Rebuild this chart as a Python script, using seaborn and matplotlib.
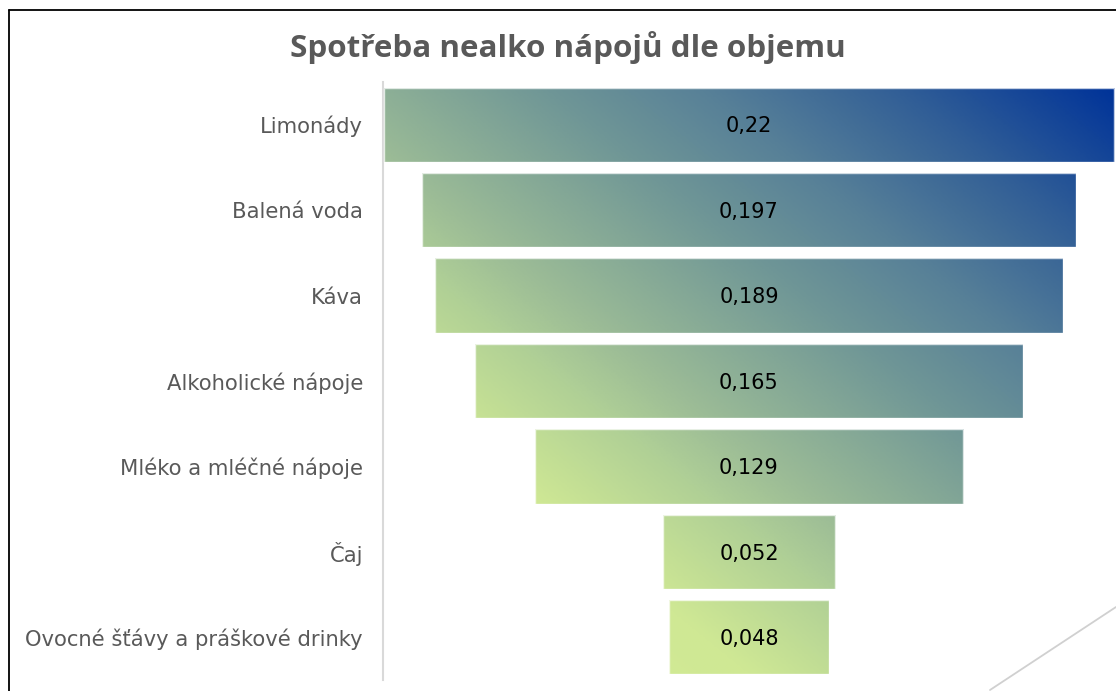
import numpy as np
import pandas as pd
import matplotlib
matplotlib.use("Agg")
import matplotlib.pyplot as plt
import seaborn as sns
from matplotlib.colors import LinearSegmentedColormap
from matplotlib.lines import Line2D

# ---- data ----
categories = ["Limonády", "Balená voda", "Káva", "Alkoholické nápoje",
              "Mléko a mléčné nápoje", "Čaj", "Ovocné šťávy a práškové drinky"]
values = [0.22, 0.197, 0.189, 0.165, 0.129, 0.052, 0.048]
title = "Spotřeba nealko nápojů dle objemu"

sns.set_theme(style="white")
plt.rcParams["font.family"] = ["DejaVu Sans"]

W, H = 1116, 691
fig = plt.figure(figsize=(W / 100, H / 100), dpi=100)
fig.patch.set_facecolor("white")
ax = fig.add_axes([383 / W, 11 / H, 732 / W, 598 / H])
ax.set_facecolor("white")

df = pd.DataFrame({"cat": categories, "val": values})
sns.barplot(data=df, x="val", y="cat", orient="h", ax=ax, width=0.87,
            color="#7a9e96", linewidth=0)

# center bars to make a funnel
for p in ax.patches:
    w = p.get_width()
    p.set_x(-w / 2)
    p.set_facecolor("none")
    p.set_edgecolor((1, 1, 1, 0.75))
    p.set_linewidth(1.0)
    p.set_zorder(3)

xmax = max(values) / 2
half_h = 0.87 / 2
y_top, y_bot = -half_h, len(values) - 1 + half_h

# gradient image (diagonal: light green bottom-left -> dark blue top-right)
cmap = LinearSegmentedColormap.from_list("grad", [
    (0.00, (214 / 255, 238 / 255, 148 / 255)),
    (0.25, (207 / 255, 232 / 255, 148 / 255)),
    (0.37, (176 / 255, 208 / 255, 150 / 255)),
    (0.44, (156 / 255, 188 / 255, 150 / 255)),
    (0.61, (111 / 255, 150 / 255, 150 / 255)),
    (0.72, (87 / 255, 128 / 255, 152 / 255)),
    (0.85, (50 / 255, 95 / 255, 150 / 255)),
    (1.00, (0 / 255, 51 / 255, 153 / 255)),
])
nx, ny = 400, 300
u = np.linspace(0, 1, nx)[None, :]
v = np.linspace(1, 0, ny)[:, None]  # row 0 = top (Limonády)
t = (u + v) / 2
img = cmap(t)
for p in ax.patches:
    im = ax.imshow(img, extent=[-xmax, xmax, y_bot, y_top], origin="upper",
                   aspect="auto", zorder=2, interpolation="bilinear")
    im.set_clip_path(p)

ax.set_xlim(-0.1103, 0.1103)
ax.set_ylim(len(values) - 0.5, -0.5)

# value labels
for i, v_ in enumerate(values):
    ax.text(0, i + 0.02, f"{v_:g}".replace(".", ","), ha="center", va="center",
            fontsize=15, color="black", zorder=5)

ax.set_xticks([])
ax.set_xlabel("")
ax.set_ylabel("")
ax.tick_params(axis="y", length=0, pad=14.4, labelsize=15.2, labelcolor="#595959")
for s in ["top", "right", "bottom"]:
    ax.spines[s].set_visible(False)
ax.spines["left"].set_color("#d9d9d9")
ax.spines["left"].set_linewidth(1.5)

# title
fig.text(568 / W, 1 - 57 / H, title, ha="center", va="baseline",
         fontsize=22.6, fontweight="bold", color="#595959", family=["Open Sans"])

# frame lines (outer border, cropped) and decorative diagonal
fig.add_artist(Line2D([8.5 / W, 8.5 / W], [0, 1 - 9.5 / H], transform=fig.transFigure,
                      color="black", linewidth=1.3))
fig.add_artist(Line2D([8.5 / W, 1], [1 - 9.5 / H, 1 - 9.5 / H], transform=fig.transFigure,
                      color="black", linewidth=1.3))
fig.add_artist(Line2D([990 / W, 1], [1 - 690 / H, 1 - 607 / H], transform=fig.transFigure,
                      color="#d0d0d0", linewidth=1.3))

fig.savefig("out.png", dpi=100)
